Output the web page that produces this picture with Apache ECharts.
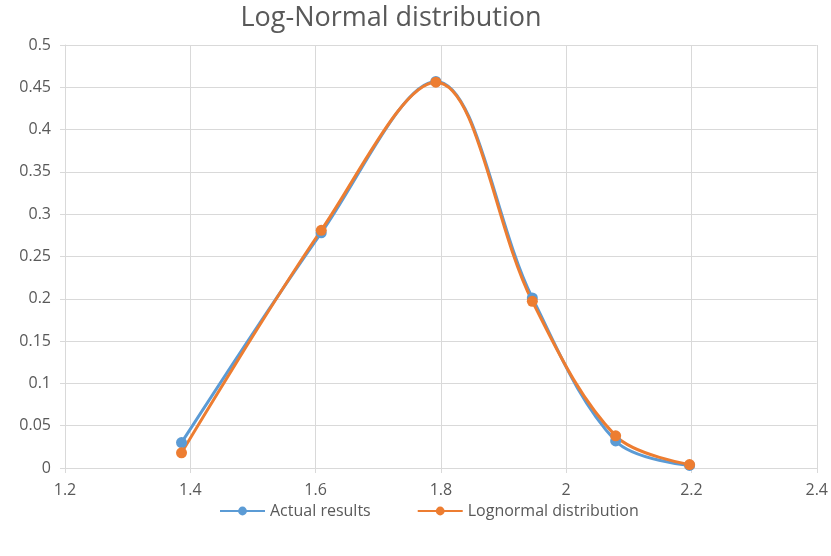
<!DOCTYPE html>
<html><head><meta charset="utf-8">
<script src="https://cdn.jsdelivr.net/npm/echarts@6/dist/echarts.min.js"></script>
<style>html,body{margin:0;padding:0;background:#fff}#c{width:831px;height:556px}</style>
</head><body><div id="c"></div>
<script>
const xValues = [1.386, 1.609, 1.792, 1.946, 2.079, 2.197];
const actualResults = [0.030, 0.278, 0.457, 0.201, 0.032, 0.003];
const lognormal = [0.018, 0.281, 0.456, 0.197, 0.038, 0.004];
const seriesNames = ['Actual results', 'Lognormal distribution'];
const titleText = 'Log-Normal distribution';

const font = "'Open Sans', sans-serif";
const grid = '#d9d9d9';
const chart = echarts.init(document.getElementById('c'));
chart.setOption({
  animation: false,
  title: {text: titleText, left: 386, textAlign: 'center', top: 0,
    textStyle: {fontFamily: font, fontSize: 27, fontWeight: 'normal', color: '#595959'}},
  legend: {bottom: 32, left: 214, itemWidth: 45, itemHeight: 11, itemGap: 46,
    textStyle: {fontFamily: font, fontSize: 16, color: '#595959'},
    data: seriesNames},
  grid: {left: 65, right: 13, top: 45, bottom: 88},
  xAxis: {type: 'value', min: 1.2, max: 2.4, interval: 0.2,
    axisLine: {show: true, lineStyle: {color: grid}},
    axisTick: {show: true, length: 5, lineStyle: {color: grid}},
    splitLine: {show: true, lineStyle: {color: grid}},
    axisLabel: {fontFamily: font, fontSize: 16, color: '#595959', margin: 14,
      formatter: v => String(Math.round(v * 10) / 10)}},
  yAxis: {type: 'value', min: 0, max: 0.5, interval: 0.05,
    axisLine: {show: true, lineStyle: {color: grid}},
    axisTick: {show: true, length: 5, lineStyle: {color: grid}},
    splitLine: {show: true, lineStyle: {color: grid}},
    axisLabel: {fontFamily: font, fontSize: 16, color: '#595959', margin: 14,
      formatter: v => String(Math.round(v * 100) / 100)}},
  series: [
    {name: seriesNames[0], type: 'line', smooth: 0.35, symbol: 'circle', symbolSize: 11,
      data: xValues.map((x, i) => [x, actualResults[i]]),
      itemStyle: {color: '#5B9BD5'}, lineStyle: {width: 3, color: '#5B9BD5'}},
    {name: seriesNames[1], type: 'line', smooth: 0.35, symbol: 'circle', symbolSize: 11,
      data: xValues.map((x, i) => [x, lognormal[i]]),
      itemStyle: {color: '#ED7D31'}, lineStyle: {width: 3, color: '#ED7D31'}}
  ]
});
</script></body></html>
